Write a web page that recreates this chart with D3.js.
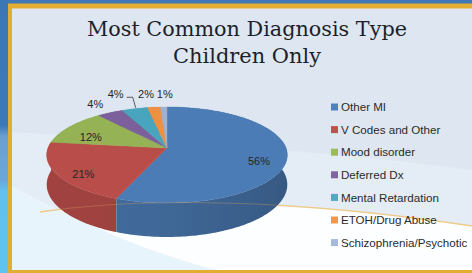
<!DOCTYPE html>
<html><head><meta charset="utf-8">
<script src="https://cdn.jsdelivr.net/npm/d3@7"></script>
<style>html,body{margin:0;padding:0;background:#fff;}svg{display:block;}</style>
</head><body>
<script>
const categories = ["Other MI","V Codes and Other","Mood disorder","Deferred Dx","Mental Retardation","ETOH/Drug Abuse","Schizophrenia/Psychotic"];
const values = [56,21,12,4,4,2,1];
const colors = ["#4F81BD","#C0504D","#9BBB59","#8064A2","#4BACC6","#F79646","#A5B9D9"];
const titleLines = ["Most Common Diagnosis Type","Children Only"];

const W=472,H=273;
const svg=d3.select("body").append("svg").attr("width",W).attr("height",H);
const defs=svg.append("defs");
defs.append("filter").attr("id","soft").append("feGaussianBlur").attr("stdDeviation",0.6);
const lg=defs.append("linearGradient").attr("id","leftStripe").attr("x1",0).attr("y1",0).attr("x2",0).attr("y2",1);
[[0,"#3a77b4"],[0.46,"#3c7ab7"],[0.5,"#6c9fd0"],[0.66,"#6aa8da"],[0.7,"#62c1ee"],[1,"#5fc3ef"]].forEach(s=>lg.append("stop").attr("offset",s[0]).attr("stop-color",s[1]));

// background frame
svg.append("rect").attr("width",W).attr("height",H).attr("fill","#3c79b6");
svg.append("rect").attr("x",0).attr("y",0).attr("width",8).attr("height",H).attr("fill","url(#leftStripe)");
svg.append("rect").attr("x",8).attr("y",3.5).attr("width",W-8).attr("height",H-3.5).attr("fill","#e2ad30");
const inner=svg.append("g");
inner.append("rect").attr("x",12).attr("y",8.5).attr("width",W-12).attr("height",261.5).attr("fill","#dee7f1");
const clip=defs.append("clipPath").attr("id","innerClip");
clip.append("rect").attr("x",12).attr("y",8.5).attr("width",W-12).attr("height",261.5);
const bg=inner.append("g").attr("clip-path","url(#innerClip)");
bg.append("path").attr("d","M12,132 C150,140 320,150 472,170 L472,273 L12,273 Z").attr("fill","#e4ecf5");
bg.append("path").attr("d","M40,212 C150,196 300,200 472,226 L472,273 L12,273 L12,200 Z").attr("fill","#fdfeff");
bg.append("path").attr("d","M12,186 C80,222 150,255 230,273 L12,273 Z").attr("fill","#e8f4fb");
bg.append("path").attr("d","M472,226 C300,200 150,196 40,212").attr("fill","none").attr("stroke","#f4dca0").attr("stroke-width",1.6);

// title
const title=svg.append("g");
titleLines.forEach((t,i)=>{
  title.append("text").attr("x",247).attr("y",36+i*27).attr("text-anchor","middle")
   .attr("font-family","DejaVu Serif, Georgia, serif").attr("font-size",20.5).attr("fill","#1c1f2a")
   .attr("textLength",i===0?320:148).attr("lengthAdjust","spacingAndGlyphs").text(t);
});

// 3D pie projection
const cx=167, cy0=148, A=119, B=47, k=0.146, D=29;
function proj(a,r,h){const u=r*Math.sin(a), v=-r*Math.cos(a); const s=1-k*v; return [cx+A*u/s, cy0+(B*v+h)/s];}
const pie=d3.pie().sort(null).value(d=>d)(values);
const pieG=svg.append("g").attr("filter","url(#soft)");
function arcPts(a0,a1,r,h,step){const n=Math.max(2,Math.ceil((a1-a0)/step));const out=[];for(let j=0;j<=n;j++)out.push(proj(a0+(a1-a0)*j/n,r,h));return out;}
// walls: each slice one polygon with horizontal shading gradient; back-most first
const wallOrder=pie.map((p,i)=>{
  let mv=-Infinity;for(let j=0;j<=50;j++){const a=p.startAngle+(p.endAngle-p.startAngle)*j/50;mv=Math.max(mv,-Math.cos(a));}
  return {p,i,mv};
}).sort((a,b)=>a.mv-b.mv);
wallOrder.forEach(({p,i})=>{
  const gid="wall"+i;
  const g=defs.append("linearGradient").attr("id",gid).attr("gradientUnits","userSpaceOnUse")
    .attr("x1",cx-A*1.02).attr("x2",cx+A*1.02).attr("y1",0).attr("y2",0);
  d3.range(0,1.001,0.1).forEach(t=>{
    const u=2*t-1;
    g.append("stop").attr("offset",t).attr("stop-color",d3.color(colors[i]).darker(0.5+0.55*t*t));
  });
  const top=arcPts(p.startAngle,p.endAngle,1,0,Math.PI/180);
  const bot=arcPts(p.startAngle,p.endAngle,1,D,Math.PI/180).reverse();
  pieG.append("path").attr("d","M"+top.concat(bot).map(q=>q.join(",")).join("L")+"Z").attr("fill",`url(#${gid})`);
});
// top faces
pie.forEach((p,i)=>{
  const pts=[[cx,cy0]].concat(arcPts(p.startAngle,p.endAngle,1,0,Math.PI/180));
  const c=d3.color(colors[i]).darker(0.12);
  pieG.append("path").attr("d","M"+pts.map(q=>q.join(",")).join("L")+"Z").attr("fill",c).attr("stroke",c).attr("stroke-width",0.4);
});
// faint swoosh showing through pie
svg.append("path").attr("d","M40,212 C150,196 300,200 472,226").attr("fill","none").attr("stroke","#d9a060").attr("stroke-opacity",0.35).attr("stroke-width",1.2);

// data labels
const fmt=v=>v+"%";
const lbl=svg.append("g").attr("font-family","Liberation Sans, Arial, sans-serif").attr("font-size",11).attr("fill","#262626");
const outside={3:[-15,-9],4:[-19,-15],5:[-8,-13],6:[1,-13]};
pie.forEach((p,i)=>{
  const am=(p.startAngle+p.endAngle)/2;
  let pos;
  if(outside[i]){const b=proj(am,1,0); pos=[b[0]+outside[i][0],b[1]+outside[i][1]];}
  else pos=proj(am,0.77,6);
  lbl.append("text").attr("x",pos[0]).attr("y",pos[1]).attr("dy","0.36em").attr("text-anchor","middle").text(fmt(values[i]));
  if(i===4){
    const b=proj(am,1,0);
    lbl.append("path").attr("d",`M${pos[0]+11},${pos[1]+3.5}H${pos[0]+17}L${b[0]+1},${b[1]-1}`).attr("fill","none").attr("stroke","#333").attr("stroke-width",0.8);
  }
});

// legend
const leg=svg.append("g").attr("font-family","Liberation Sans, Arial, sans-serif").attr("font-size",11.6).attr("fill","#2a2a2a");
categories.forEach((c,i)=>{
  const y=107+i*22.6;
  leg.append("rect").attr("x",331).attr("y",y-3.5).attr("width",7).attr("height",7).attr("fill",colors[i]);
  leg.append("text").attr("x",341).attr("y",y).attr("dy","0.36em").text(c);
});
</script>
</body></html>
